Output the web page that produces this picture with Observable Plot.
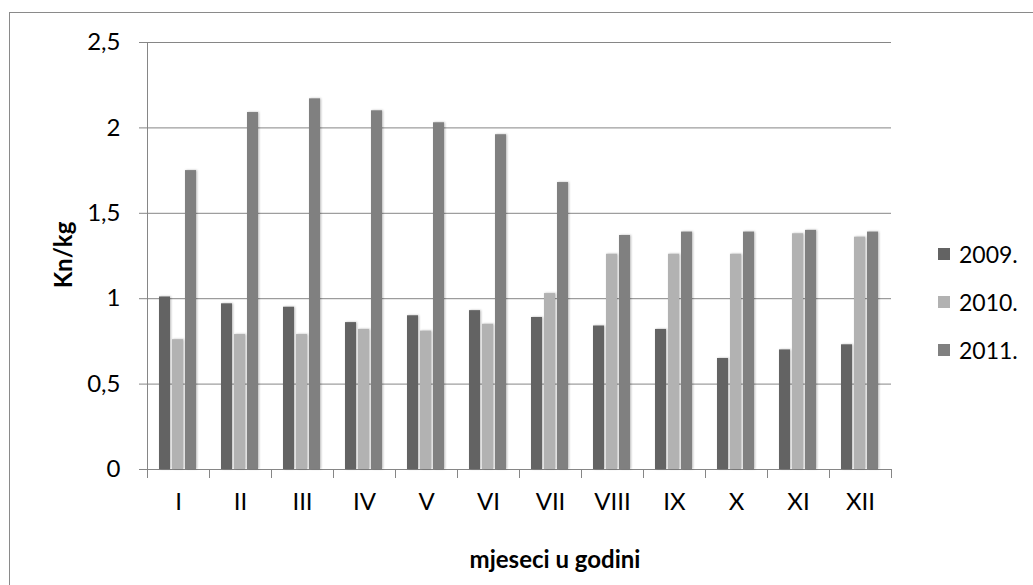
<!DOCTYPE html>
<html>
<head>
<meta charset="utf-8">
<script src="https://cdn.jsdelivr.net/npm/d3@7"></script>
<script src="https://cdn.jsdelivr.net/npm/@observablehq/plot@0.6"></script>
<style>
html, body { margin: 0; padding: 0; background: #fff; overflow: hidden; }
#wrap { position: relative; width: 1033px; height: 585px; overflow: hidden; font-family: Lato, "Open Sans", sans-serif; color: #000; }
#border { position: absolute; left: 9px; top: 12px; width: 1100px; height: 700px; border: 1.5px solid #8a8a8a; box-sizing: border-box; }
#chart { position: absolute; left: 0; top: 0; }
#chart svg text { fill: #000; }
#chart g[aria-label="bar"] rect { filter: drop-shadow(1.5px 0.5px 1px rgba(0,0,0,0.28)); }
.ytitle { position: absolute; left: 62px; top: 255px; transform: translate(-50%, -50%) rotate(-90deg); font-weight: bold; font-size: 24px; white-space: nowrap; }
.xtitle { position: absolute; left: 555px; top: 558px; transform: translate(-50%, -50%); font-weight: bold; font-size: 24px; white-space: nowrap; }
.item { position: absolute; left: 938px; display: flex; align-items: center; gap: 9px; font-size: 23px; white-space: nowrap; transform: translateY(-50%); }
.sw { width: 12px; height: 12px; }
</style>
</head>
<body>
<div id="wrap">
  <div id="border"></div>
  <div id="chart"></div>
  <div class="ytitle">Kn/kg</div>
  <div class="xtitle">mjeseci u godini</div>
  <div id="legend"></div>
</div>
<script>
const months = ["I", "II", "III", "IV", "V", "VI", "VII", "VIII", "IX", "X", "XI", "XII"];
const years = ["2009.", "2010.", "2011."];
const v2009 = [1.01, 0.97, 0.95, 0.86, 0.90, 0.93, 0.89, 0.84, 0.82, 0.65, 0.70, 0.73];
const v2010 = [0.76, 0.79, 0.79, 0.82, 0.81, 0.85, 1.03, 1.26, 1.26, 1.26, 1.38, 1.36];
const v2011 = [1.75, 2.09, 2.17, 2.10, 2.03, 1.96, 1.68, 1.37, 1.39, 1.39, 1.40, 1.39];
const colors = ["#636363", "#b2b2b2", "#808080"];
const yTicks = [0, 0.5, 1, 1.5, 2, 2.5];

const series = [v2009, v2010, v2011];
const data = months.flatMap((m, i) => years.map((y, j) => ({month: m, year: y, value: series[j][i]})));

const W = 1033, H = 585, mL = 142, mR = 138, mT = 42, mB = 116;
const grid = "#868686";

const chart = Plot.plot({
  width: W, height: H,
  marginLeft: mL, marginRight: mR, marginTop: mT, marginBottom: mB,
  style: {fontFamily: "Lato, 'Open Sans', sans-serif", fontSize: "24px", color: grid, background: "transparent", overflow: "visible"},
  facet: {data, x: "month"},
  fx: {domain: months, padding: 0, tickSize: 0, tickPadding: 23, label: null, axis: "bottom"},
  x: {domain: years, paddingInner: 0.15, paddingOuter: 0.86, axis: null},
  y: {domain: [0, 2.5], ticks: yTicks, tickFormat: d => String(d).replace(".", ","), tickSize: 8, tickPadding: 19, label: null, line: true},
  color: {domain: years, range: colors},
  marks: [
    Plot.ruleY(yTicks, {stroke: grid, strokeWidth: 1}),
    Plot.barY(data, {x: "year", y: "value", fill: "year"}),
    Plot.frame({anchor: "left", stroke: grid, insetTop: H - mT - mB, insetBottom: -8}),
    Plot.frame({anchor: "right", stroke: grid, insetTop: H - mT - mB, insetBottom: -8})
  ]
});
document.getElementById("chart").appendChild(chart);

const legendTops = [254, 302, 350];
const legend = document.getElementById("legend");
years.forEach((y, j) => {
  const it = document.createElement("div");
  it.className = "item";
  it.style.top = legendTops[j] + "px";
  const sw = document.createElement("div");
  sw.className = "sw";
  sw.style.background = colors[j];
  const tx = document.createElement("span");
  tx.textContent = y;
  it.appendChild(sw);
  it.appendChild(tx);
  legend.appendChild(it);
});
</script>
</body>
</html>
